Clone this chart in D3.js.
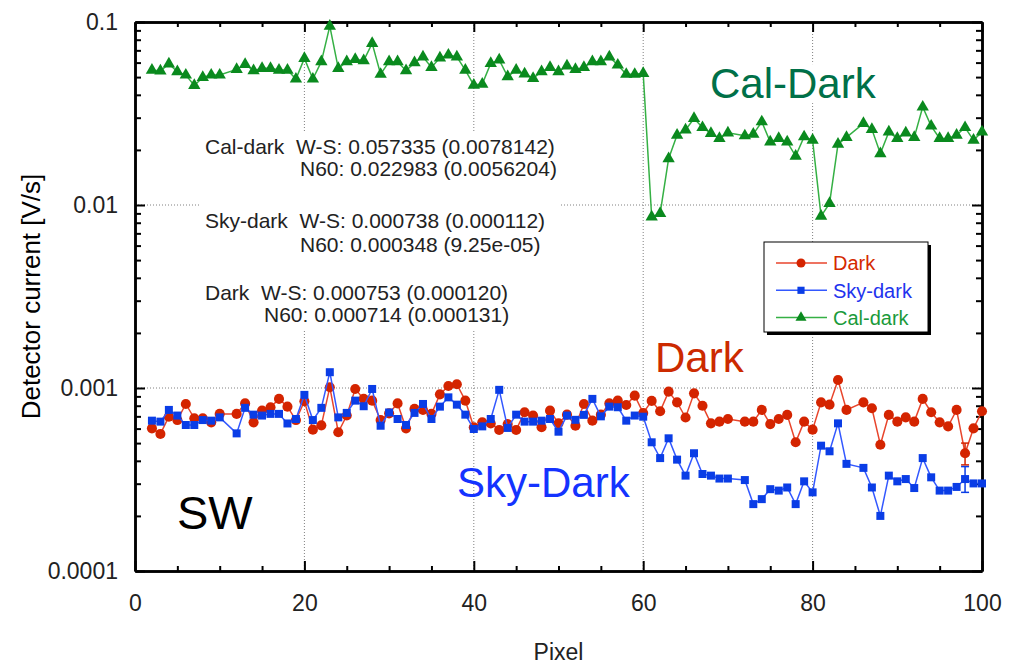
<!DOCTYPE html>
<html>
<head>
<meta charset="utf-8">
<script src="https://cdn.jsdelivr.net/npm/d3@7"></script>
<style>
body { margin: 0; background: #fff; }
svg text { font-family: "Liberation Sans", Arial, sans-serif; }
</style>
</head>
<body>
<div id="chart"></div>
<script>
// pixel index (11, 71 and 85 are not plotted)
const pixels = [2,3,4,5,6,7,8,9,10,
  12,13,14,15,16,17,18,19,20,
  21,22,23,24,25,26,27,28,29,30,
  31,32,33,34,35,36,37,38,39,40,
  41,42,43,44,45,46,47,48,49,50,
  51,52,53,54,55,56,57,58,59,60,
  61,62,63,64,65,66,67,68,69,70,
  72,73,74,75,76,77,78,79,80,81,82,83,84,
  86,87,88,89,90,91,92,93,94,95,96,97,98,99,100];

const dark = [0.000602,0.000561,0.000697,0.000668,0.000818,0.000683,0.000683,0.000649,0.000722,
  0.000722,0.000824,0.000649,0.000752,0.000785,0.000872,0.000791,0.000668,0.000846,
  0.000592,0.000625,0.00101,0.000573,0.000707,0.000988,0.000872,0.000853,0.000668,0.000727,
  0.000824,0.000602,0.000769,0.000759,0.000722,0.000923,0.001025,0.001048,0.000853,0.000610,
  0.000649,0.000640,0.000590,0.000635,0.000590,0.000737,0.000707,0.000610,0.000752,0.000641,
  0.000715,0.000622,0.000818,0.000663,0.000715,0.000824,0.000853,0.000807,0.000908,0.000730,
  0.000850,0.000746,0.000955,0.000835,0.000690,0.000935,0.000800,0.000641,0.000655,0.000677,
  0.000655,0.000655,0.000759,0.000635,0.000677,0.000713,0.000505,0.000655,0.000592,0.000835,0.000811,0.001106,0.000759,
  0.000835,0.000775,0.000490,0.000713,0.000655,0.000691,0.000655,0.000872,0.000737,0.000649,0.000617,0.000759,0.000440,0.000602,0.000746];

const skyDark = [0.000663,0.000655,0.000759,0.000707,0.000628,0.000628,0.000668,0.000663,0.000691,
  0.000565,0.000779,0.000715,0.000707,0.000722,0.000722,0.000640,0.000677,0.000917,
  0.000668,0.000779,0.00122,0.000691,0.000731,0.000853,0.000795,0.000988,0.000622,0.000735,
  0.000677,0.000628,0.000731,0.000818,0.000677,0.000791,0.000889,0.000811,0.000715,0.000597,
  0.000617,0.000677,0.000977,0.000605,0.000715,0.000655,0.000655,0.000663,0.000677,0.000577,
  0.000707,0.000670,0.000713,0.000872,0.000700,0.000791,0.000785,0.000663,0.000707,0.000697,
  0.000505,0.000414,0.000531,0.000406,0.000332,0.000440,0.000339,0.000332,0.000320,0.000320,
  0.000314,0.000232,0.000247,0.000280,0.000275,0.000286,0.000232,0.000309,0.000269,0.000484,0.000451,0.000641,0.000385,
  0.000366,0.000286,0.000200,0.000332,0.000309,0.000318,0.000284,0.000414,0.000325,0.000275,0.000275,0.000288,0.000318,0.000301,0.000301];

const calDark = [0.0546,0.0540,0.0590,0.0535,0.0513,0.0450,0.0498,0.0513,0.0513,
  0.0551,0.0586,0.0542,0.0558,0.0558,0.0546,0.0546,0.0488,0.0633,
  0.0488,0.0607,0.0950,0.0558,0.0607,0.0625,0.0615,0.0764,0.0518,0.0607,
  0.0607,0.0542,0.0600,0.0645,0.0565,0.0637,0.0660,0.0645,0.0546,0.0452,
  0.0458,0.0594,0.0620,0.0503,0.0546,0.0520,0.0492,0.0535,0.0565,0.0535,
  0.0575,0.0551,0.0565,0.0607,0.0607,0.0645,0.0582,0.0518,0.0518,0.0524,
  0.0086,0.0090,0.0179,0.0241,0.0257,0.0297,0.0265,0.0246,0.0231,0.0248,
  0.0239,0.0244,0.0285,0.0221,0.0231,0.0221,0.0185,0.0236,0.0226,0.0087,0.0102,0.0215,0.0234,
  0.0279,0.0259,0.0191,0.0251,0.0231,0.0248,0.0234,0.0343,0.0270,0.0231,0.0231,0.0241,0.0265,0.0226,0.0251];

// error bars shown on one pixel
const errPixel = [98];
const darkErr = [[0.00038, 0.00050]];
const skyErr = [[0.000269, 0.000372]];

const xTicks = [0, 20, 40, 60, 80, 100];
const xMinor = [5, 10, 15, 25, 30, 35, 45, 50, 55, 65, 70, 75, 85, 90, 95];
const yTicks = [0.0001, 0.001, 0.01, 0.1];
const yTickLabels = ["0.0001", "0.001", "0.01", "0.1"];
const legendNames = ["Dark", "Sky-dark", "Cal-dark"];
const notes = [
  "Cal-dark  W-S: 0.057335 (0.0078142)",
  "N60: 0.022983 (0.0056204)",
  "Sky-dark  W-S: 0.000738 (0.000112)",
  "N60: 0.000348 (9.25e-05)",
  "Dark  W-S: 0.000753 (0.000120)",
  "N60: 0.000714 (0.000131)"
];

const W = 1017, H = 666;
const x0 = 135, x1 = 982, yTop = 22, yBot = 571;

const svg = d3.select('#chart').append('svg')
  .attr('width', W)
  .attr('height', H);

const x = d3.scaleLinear().domain([0, 100]).range([x0, x1]);
const y = d3.scaleLog().domain([1e-4, 0.1]).range([yBot, yTop]);

// dotted grid
const grid = svg.append('g').attr('stroke', '#808080').attr('stroke-width', 1).attr('stroke-dasharray', '1,2');
grid.selectAll('line.v').data([20, 40, 60, 80]).enter().append('line')
  .attr('x1', d => x(d)).attr('x2', d => x(d)).attr('y1', yTop).attr('y2', yBot);
grid.selectAll('line.h').data([0.01, 0.001]).enter().append('line')
  .attr('y1', d => y(d)).attr('y2', d => y(d)).attr('x1', x0).attr('x2', x1);

// annotation block with white background
const noteG = svg.append('g').attr('fill', '#222').attr('font-size', 21);
const noteX = [205, 300, 205, 300, 205, 264];
const noteY = [146, 168, 220, 244, 292, 314];
noteG.selectAll('text').data(notes).enter().append('text')
  .attr('x', (d, i) => noteX[i])
  .attr('y', (d, i) => noteY[i])
  .attr('dy', '0.36em')
  .style('white-space', 'pre')
  .text(d => d);
const nb = noteG.node().getBBox();
svg.insert('rect', 'g:last-child')
  .attr('x', nb.x - 5).attr('y', nb.y - 3)
  .attr('width', nb.width + 8).attr('height', nb.height + 8)
  .attr('fill', '#fff');

// axes
const axG = svg.append('g');
const styleAxis = g => {
  g.select('.domain').attr('stroke', '#000').attr('stroke-width', 2.5);
  g.selectAll('.tick line').attr('stroke', '#000').attr('stroke-width', 2);
  g.selectAll('text').attr('font-family', '"Liberation Sans", Arial, sans-serif')
    .attr('font-size', 23).attr('fill', '#222');
};
axG.append('g').attr('transform', `translate(0,${yBot})`)
  .call(d3.axisBottom(x).tickValues(xTicks).tickSize(-10).tickSizeOuter(0).tickPadding(24).tickFormat(d3.format('d')))
  .call(styleAxis);
axG.append('g').attr('transform', `translate(0,${yBot})`)
  .call(d3.axisBottom(x).tickValues(xMinor).tickSize(-5).tickSizeOuter(0).tickFormat(''))
  .call(styleAxis);
axG.append('g').attr('transform', `translate(0,${yTop})`)
  .call(d3.axisTop(x).tickValues(xTicks).tickSize(-10).tickSizeOuter(0).tickFormat(''))
  .call(styleAxis);
axG.append('g').attr('transform', `translate(0,${yTop})`)
  .call(d3.axisTop(x).tickValues(xMinor).tickSize(-5).tickSizeOuter(0).tickFormat(''))
  .call(styleAxis);

const yMinor = [];
[1e-4, 1e-3, 1e-2].forEach(dec => { for (let k = 2; k <= 9; k++) yMinor.push(dec * k); });
axG.append('g').attr('transform', `translate(${x0},0)`)
  .call(d3.axisLeft(y).tickValues(yTicks).tickSize(-10).tickSizeOuter(0).tickPadding(17)
    .tickFormat((d, i) => yTickLabels[i]))
  .call(styleAxis);
axG.append('g').attr('transform', `translate(${x0},0)`)
  .call(d3.axisLeft(y).tickValues(yMinor).tickSize(-6).tickSizeOuter(0).tickFormat(''))
  .call(styleAxis);
axG.append('g').attr('transform', `translate(${x1},0)`)
  .call(d3.axisRight(y).tickValues(yTicks).tickSize(-10).tickSizeOuter(0).tickFormat(''))
  .call(styleAxis);
axG.append('g').attr('transform', `translate(${x1},0)`)
  .call(d3.axisRight(y).tickValues(yMinor).tickSize(-6).tickSizeOuter(0).tickFormat(''))
  .call(styleAxis);

// axis titles
svg.append('text')
  .attr('x', (x0 + x1) / 2).attr('y', 652).attr('dy', '0.35em')
  .attr('text-anchor', 'middle').attr('font-size', 23).attr('fill', '#222')
  .text('Pixel');
svg.append('text')
  .attr('transform', `translate(31,${(yTop + yBot) / 2}) rotate(-90)`)
  .attr('dy', '0.35em')
  .attr('text-anchor', 'middle').attr('font-size', 26).attr('fill', '#000')
  .text('Detector current [V/s]');

// series
const series = [
  { name: 'Cal-dark', values: calDark, line: '#35b044', fill: '#0a8a1e', symbol: d3.symbolTriangle, size: 66 },
  { name: 'Dark', values: dark, line: '#e8452c', fill: '#d42400', symbol: d3.symbolCircle, size: 80 },
  { name: 'Sky-dark', values: skyDark, line: '#3358ff', fill: '#0a3de6', symbol: d3.symbolSquare, size: 64 }
];

const line = d3.line().x(d => x(d[0])).y(d => y(d[1]));

series.forEach(s => {
  const pts = pixels.map((p, i) => [p, s.values[i]]);
  const g = svg.append('g');
  g.append('path').datum(pts)
    .attr('d', line).attr('fill', 'none')
    .attr('stroke', s.line).attr('stroke-width', 1.5);
  g.selectAll('path.m').data(pts).enter().append('path')
    .attr('class', 'm')
    .attr('transform', d => `translate(${x(d[0])},${y(d[1])})`)
    .attr('d', d3.symbol(s.symbol, s.size))
    .attr('fill', s.fill);
});

// error bars
const drawErr = (errs, color) => {
  const g = svg.append('g').attr('stroke', color).attr('stroke-width', 1.5);
  errPixel.forEach((p, i) => {
    const [lo, hi] = errs[i];
    g.append('line').attr('x1', x(p)).attr('x2', x(p)).attr('y1', y(lo)).attr('y2', y(hi));
    [lo, hi].forEach(v => g.append('line')
      .attr('x1', x(p) - 4).attr('x2', x(p) + 4).attr('y1', y(v)).attr('y2', y(v)));
  });
};
drawErr(darkErr, '#d42400');
drawErr(skyErr, '#0a3de6');

// big labels
const calLbl = svg.append('text').attr('x', 710).attr('y', 83).attr('dy', '0.36em')
  .attr('font-size', 42).attr('fill', '#007048').text('Cal-Dark');
const cb = calLbl.node().getBBox();
svg.insert('rect', () => calLbl.node())
  .attr('x', cb.x - 3).attr('y', cb.y + 4).attr('width', cb.width + 6).attr('height', cb.height - 8)
  .attr('fill', '#fff');
svg.append('text').attr('x', 655).attr('y', 357).attr('dy', '0.36em')
  .attr('font-size', 42).attr('fill', '#cc2a00').text('Dark');
svg.append('text').attr('x', 457).attr('y', 482).attr('dy', '0.36em')
  .attr('font-size', 42).attr('fill', '#1433ff').text('Sky-Dark');
svg.append('text').attr('x', 177).attr('y', 512).attr('dy', '0.36em')
  .attr('font-size', 47).attr('fill', '#000').text('SW');

// legend
const lg = svg.append('g');
lg.append('rect').attr('x', 767).attr('y', 245).attr('width', 164).attr('height', 90).attr('fill', '#000');
lg.append('rect').attr('x', 764).attr('y', 242).attr('width', 164).attr('height', 90)
  .attr('fill', '#fff').attr('stroke', '#000').attr('stroke-width', 1);
const legendSeries = [series[1], series[2], series[0]];
const legendText = ['#d42a00', '#2233ee', '#1a9a3a'];
legendNames.forEach((nm, i) => {
  const s = legendSeries[i];
  const yy = 263 + i * 27.3;
  lg.append('line').attr('x1', 776).attr('x2', 827).attr('y1', yy).attr('y2', yy)
    .attr('stroke', s.line).attr('stroke-width', 1.5);
  lg.append('path').attr('transform', `translate(801,${yy})`)
    .attr('d', d3.symbol(s.symbol, s.size * 0.8)).attr('fill', s.fill);
  lg.append('text').attr('x', 833).attr('y', yy).attr('dy', '0.36em')
    .attr('font-size', 20).attr('fill', legendText[i]).text(nm);
});
</script>
</body>
</html>
